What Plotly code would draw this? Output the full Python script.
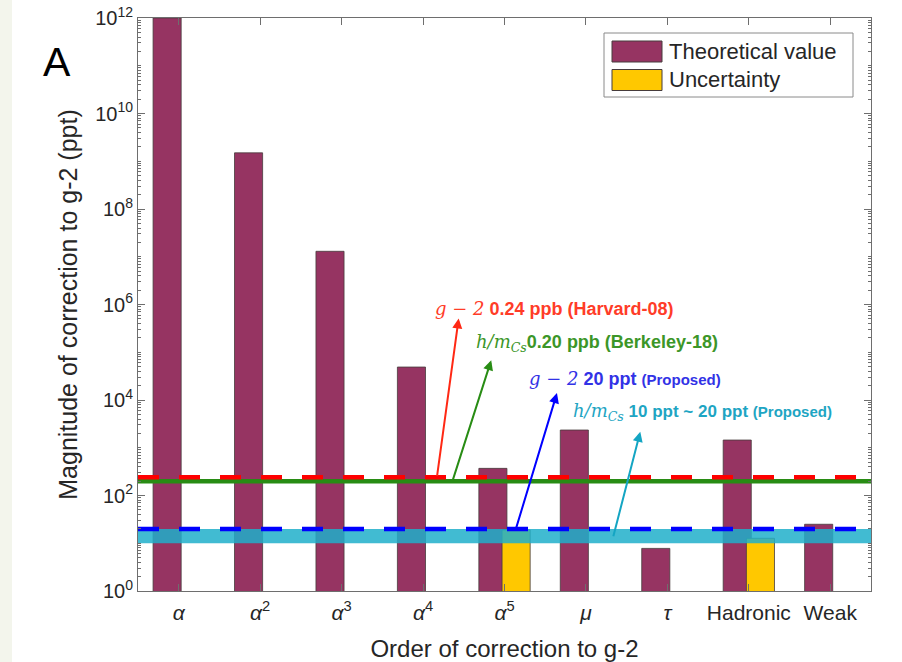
import math
import plotly.graph_objects as go

# ---------------- data ----------------
categories = ["alpha", "alpha^2", "alpha^3", "alpha^4", "alpha^5", "mu", "tau", "Hadronic", "Weak"]
tick_labels = [
    "<i>α</i>", "<i>α</i><sup>2</sup>", "<i>α</i><sup>3</sup>", "<i>α</i><sup>4</sup>",
    "<i>α</i><sup>5</sup>", "<i>μ</i>", "<i>τ</i>", "Hadronic", "Weak",
]
theoretical_value = [1e12, 1.5e9, 1.3e7, 4.9e4, 370, 2350, 7.8, 1450, 25]
uncertainty = [None, None, None, None, 19, None, None, 12.7, None]

harvard08_ppt = 240      # g-2 0.24 ppb
berkeley18_ppt = 200     # h/m_Cs 0.20 ppb
proposed_g2_ppt = 20     # g-2 20 ppt
proposed_h_low_ppt = 10  # h/m_Cs 10 ppt
proposed_h_high_ppt = 20 # h/m_Cs 20 ppt

y_tick_vals = [1e0, 1e2, 1e4, 1e6, 1e8, 1e10, 1e12]
y_tick_text = ["10<sup>0</sup>", "10<sup>2</sup>", "10<sup>4</sup>", "10<sup>6</sup>",
               "10<sup>8</sup>", "10<sup>10</sup>", "10<sup>12</sup>"]

# ---------------- layout helpers ----------------
W, H = 902, 662
L, R, T, B = 138, 31, 18, 71
pw, ph = W - L - R, H - T - B


def px(x):
    return (x - L) / pw


def py(y):
    return (H - B - y) / ph


pos = list(range(len(categories)))
x_lo, x_hi = -0.5, len(categories) - 0.5

PURPLE = "rgb(150,52,98)"
YELLOW = "rgb(255,200,0)"
EDGE = "rgb(70,60,60)"
TXT = "#262626"
AX = "#6e6e6e"

fig = go.Figure()

fig.add_trace(go.Bar(x=pos, y=theoretical_value, name="Theoretical value",
                     marker=dict(color=PURPLE, line=dict(color=EDGE, width=0.8)),
                     width=0.345, offset=-0.315, showlegend=False))
fig.add_trace(go.Bar(x=pos, y=uncertainty, name="Uncertainty",
                     marker=dict(color=YELLOW, line=dict(color=EDGE, width=0.8)),
                     width=0.345, offset=-0.03, showlegend=False))

# cyan band (proposed h/m_Cs)
fig.add_trace(go.Scatter(x=[x_lo, x_hi, x_hi, x_lo, x_lo],
                         y=[proposed_h_low_ppt, proposed_h_low_ppt, proposed_h_high_ppt,
                            proposed_h_high_ppt, proposed_h_low_ppt],
                         fill="toself", fillcolor="rgba(32,175,202,0.85)",
                         line=dict(width=0), mode="lines", showlegend=False, hoverinfo="skip"))
# green solid (Berkeley-18)
fig.add_trace(go.Scatter(x=[x_lo, x_hi], y=[berkeley18_ppt, berkeley18_ppt], mode="lines",
                         line=dict(color="rgb(40,140,20)", width=4.5), showlegend=False))
# red dashed (Harvard-08)
fig.add_trace(go.Scatter(x=[x_lo, x_hi], y=[harvard08_ppt, harvard08_ppt], mode="lines",
                         line=dict(color="rgb(255,0,0)", width=4.5, dash="21px,20px"), showlegend=False))
# blue dashed (proposed g-2)
fig.add_trace(go.Scatter(x=[x_lo, x_hi], y=[proposed_g2_ppt, proposed_g2_ppt], mode="lines",
                         line=dict(color="rgb(0,0,255)", width=4.5, dash="21px,20px"), showlegend=False))

lg = math.log10

MATH = "font-family:'DejaVu Serif';font-style:italic;font-weight:normal;font-size:18px"

annotations = []
# arrows: (tip_x, tip_logy, tail_x, tail_logy, color)
arrows = [
    (3.437, 5.707, 3.170, lg(harvard08_ppt), "rgb(255,40,20)"),
    (3.837, 4.835, 3.361, lg(berkeley18_ppt), "rgb(40,140,20)"),
    (4.644, 4.144, 4.140, lg(proposed_g2_ppt), "rgb(0,0,255)"),
    (5.667, 3.334, 5.332, 1.116, "rgb(20,165,195)"),
]
for tx, ty, ax_, ay_, col in arrows:
    annotations.append(dict(x=tx, y=ty, xref="x", yref="y", ax=ax_, ay=ay_, axref="x", ayref="y",
                            text="", showarrow=True, arrowhead=2, arrowsize=1.0, arrowwidth=2,
                            arrowcolor=col, standoff=0, startstandoff=0))

labels = [
    (3.124, 5.923, "rgb(255,60,40)",
     f"<span style=\"{MATH}\">g − 2</span> 0.24 ppb (Harvard-08)", 18),
    (3.628, 5.19, "rgb(60,150,40)",
     f"<span style=\"{MATH}\">h/m<sub>Cs</sub></span>0.20 ppb (Berkeley-18)", 18),
    (4.279, 4.458, "rgb(50,50,230)",
     f"<span style=\"{MATH}\">g − 2</span> 20 ppt <span style=\"font-size:15px\">(Proposed)</span>", 18),
    (4.819, 3.746, "rgb(30,165,195)",
     f"<span style=\"{MATH}\">h/m<sub>Cs</sub></span> 10 ppt ~ 20 ppt <span style=\"font-size:15px\">(Proposed)</span>", 17),
]
for lx, ly, col, txt, sz in labels:
    annotations.append(dict(x=lx, y=ly, xref="x", yref="y", text=f"<b>{txt}</b>", showarrow=False,
                            xanchor="left", yanchor="middle",
                            font=dict(family="Liberation Sans", size=sz, color=col)))

# panel letter
annotations.append(dict(x=px(57), y=py(62), xref="paper", yref="paper", text="A", showarrow=False,
                        font=dict(family="Liberation Sans", size=41, color="black"),
                        xanchor="center", yanchor="middle"))

# legend (custom, large swatches)
leg_items = [("Theoretical value", PURPLE, 51.5), ("Uncertainty", YELLOW, 80)]
shapes = [
    dict(type="rect", xref="paper", yref="paper", x0=px(0), x1=px(12), y0=py(0), y1=py(662),
         fillcolor="rgb(243,245,236)", line=dict(width=0), layer="below"),
    dict(type="rect", xref="paper", yref="paper", x0=px(604), x1=px(853), y0=py(33), y1=py(97),
         fillcolor="white", line=dict(color="#8a8a8a", width=1), layer="above"),
]
for name, col, cy in leg_items:
    shapes.append(dict(type="rect", xref="paper", yref="paper", x0=px(612), x1=px(662),
                       y0=py(cy - 10.5), y1=py(cy + 10.5), fillcolor=col,
                       line=dict(color=EDGE, width=1), layer="above"))
    annotations.append(dict(x=px(667), y=py(cy), xref="paper", yref="paper", text=name,
                            showarrow=False, xanchor="left", yanchor="middle",
                            font=dict(family="Liberation Sans", size=22, color=TXT)))

minor_vals = [k * 10 ** n for n in range(0, 12) for k in range(1, 10) if not (k == 1 and n % 2 == 0)]

fig.update_layout(
    width=W, height=H,
    margin=dict(l=L, r=R, t=T, b=B, pad=0, autoexpand=False),
    paper_bgcolor="white", plot_bgcolor="white",
    barmode="overlay",
    font=dict(family="Liberation Sans", color=TXT),
    annotations=annotations, shapes=shapes,
    xaxis=dict(range=[x_lo, x_hi], tickmode="array", tickvals=pos, ticktext=tick_labels,
               automargin=False, ticklabelstandoff=3,
               ticks="inside", ticklen=7, tickcolor=AX, showline=True, mirror="ticks",
               linecolor=AX, linewidth=1, showgrid=False, zeroline=False,
               tickfont=dict(size=21, color=TXT, family="Liberation Sans"),
               title=dict(text="Order of correction to g-2", standoff=20,
                          font=dict(size=24, color=TXT))),
    yaxis=dict(type="log", range=[0, 12], tickmode="array", tickvals=y_tick_vals,
               ticktext=y_tick_text, ticks="inside", ticklen=7, tickcolor=AX,
               automargin=False,
               showline=True, mirror="ticks", linecolor=AX, linewidth=1,
               showgrid=False, zeroline=False,
               minor=dict(tickmode="array", tickvals=minor_vals, ticks="inside", ticklen=3,
                          tickcolor=AX, showgrid=False),
               tickfont=dict(size=20, color=TXT, family="Liberation Sans"),
               title=dict(text="Magnitude of correction to g-2 (ppt)", standoff=10,
                          font=dict(size=25, color=TXT))),
)

fig.write_html("out.html", config={"displayModeBar": False},
               post_script="document.body.style.margin='0';")
